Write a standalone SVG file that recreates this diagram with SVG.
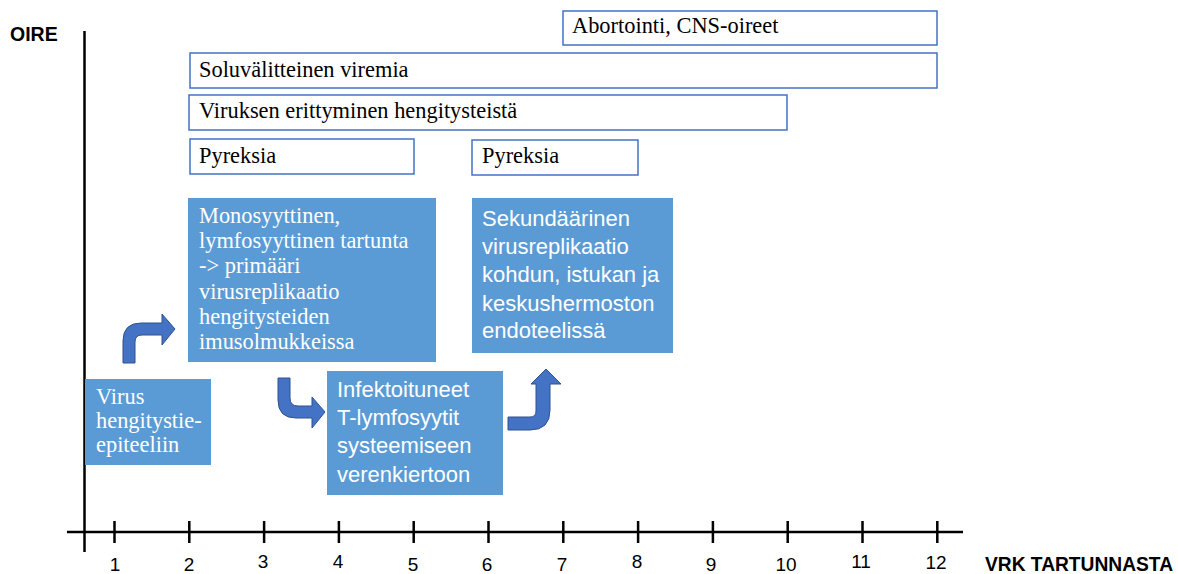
<svg xmlns="http://www.w3.org/2000/svg" width="1178" height="574" viewBox="0 0 1178 574">
<style>
.ob{fill:#fff;stroke:#4472C4;stroke-width:1.5}
.fb{fill:#5B9BD5}
.st{font-family:"Liberation Serif",serif;font-size:22.4px;fill:#000}
.sw{font-family:"Liberation Serif",serif;font-size:22.4px;fill:#fff}
.sa{font-family:"Liberation Sans",sans-serif;font-size:22px;fill:#fff}
.ax{stroke:#000;stroke-width:2.5;fill:none}
.tl{font-family:"Liberation Sans",sans-serif;font-size:19px;fill:#000;text-anchor:middle}
.bl{font-family:"Liberation Sans",sans-serif;font-size:19.5px;font-weight:bold;fill:#000}
.ar{fill:#4472C4;stroke:#2F528F;stroke-width:1}
</style>
<g id="axes">
<line class="ax" x1="84.5" y1="31" x2="84.5" y2="552"/>
<line class="ax" x1="67" y1="532" x2="963" y2="532"/>
<path class="ax" d="M114.5,521V543M189.3,521V543M264.1,521V543M338.9,521V543M413.7,521V543M488.5,521V543M563.3,521V543M638.1,521V543M712.9,521V543M787.7,521V543M862.5,521V543M937.3,521V543"/>
<text class="tl" x="115" y="571">1</text>
<text class="tl" x="189" y="571">2</text>
<text class="tl" x="263" y="568">3</text>
<text class="tl" x="338" y="568">4</text>
<text class="tl" x="413" y="571">5</text>
<text class="tl" x="487" y="571">6</text>
<text class="tl" x="562" y="571">7</text>
<text class="tl" x="637" y="568">8</text>
<text class="tl" x="711" y="571">9</text>
<text class="tl" x="786" y="571">10</text>
<text class="tl" x="861" y="568">11</text>
<text class="tl" x="936" y="569">12</text>
<text class="bl" x="10" y="41">OIRE</text>
<text class="bl" x="985" y="571" textLength="188" lengthAdjust="spacingAndGlyphs">VRK TARTUNNASTA</text>
</g>
<g id="abortointi"><rect class="ob" x="563" y="11" width="374" height="34"/><text class="st" x="572" y="33">Abortointi, CNS-oireet</text></g>
<g id="viremia"><rect class="ob" x="190" y="53" width="747" height="35"/><text class="st" x="199" y="77">Soluvälitteinen viremia</text></g>
<g id="erittyminen"><rect class="ob" x="189" y="95" width="598" height="35"/><text class="st" x="199" y="118">Viruksen erittyminen hengitysteistä</text></g>
<g id="pyreksia1"><rect class="ob" x="190" y="139" width="224" height="35"/><text class="st" x="199" y="163">Pyreksia</text></g>
<g id="pyreksia2"><rect class="ob" x="472" y="140" width="166" height="35"/><text class="st" x="482" y="163">Pyreksia</text></g>
<g id="virus"><rect class="fb" x="85" y="379" width="126" height="86"/>
<text class="sw" x="96" y="404">Virus</text><text class="sw" x="96" y="428">hengitystie-</text><text class="sw" x="96" y="452">epiteeliin</text></g>
<g id="primaari"><rect class="fb" x="188" y="198" width="248" height="164"/>
<text class="sw" x="199" y="223">Monosyyttinen,</text>
<text class="sw" x="199" y="248">lymfosyyttinen tartunta</text>
<text class="sw" x="199" y="273">-&gt; primääri</text>
<text class="sw" x="199" y="298.5">virusreplikaatio</text>
<text class="sw" x="199" y="324">hengitysteiden</text>
<text class="sw" x="199" y="349">imusolmukkeissa</text></g>
<g id="infektoituneet"><rect class="fb" x="327" y="371" width="176" height="124"/>
<text class="sa" x="337" y="397">Infektoituneet</text>
<text class="sa" x="337" y="425">T-lymfosyytit</text>
<text class="sa" x="337" y="453">systeemiseen</text>
<text class="sa" x="337" y="482">verenkiertoon</text></g>
<g id="sekundaarinen"><rect class="fb" x="472" y="198" width="201" height="155"/>
<text class="sa" x="482" y="226">Sekundäärinen</text>
<text class="sa" x="482" y="254">virusreplikaatio</text>
<text class="sa" x="482" y="282">kohdun, istukan ja</text>
<text class="sa" x="482" y="311">keskushermoston</text>
<text class="sa" x="482" y="338">endoteelissä</text></g>
<g id="connectors">
<path class="ar" d="M123,363 L123,341 Q123,323 141,323 L162,323 L162,314 L175,329 L162,345 L162,335 L142,335 Q135,335 135,342 L135,363 Z"/>
<path class="ar" d="M278,378 L290,378 L290,398 Q290,406 298,406 L312,406 L312,397 L325,412 L312,428 L312,418 L296,418 Q278,418 278,400 Z"/>
<path class="ar" d="M508,417 L530,417 Q536,417 536,411 L536,384 L531,384 L546,369 L561,384 L550,384 L550,410 Q550,430 530,430 L508,430 Z"/>
</g>
</svg>
